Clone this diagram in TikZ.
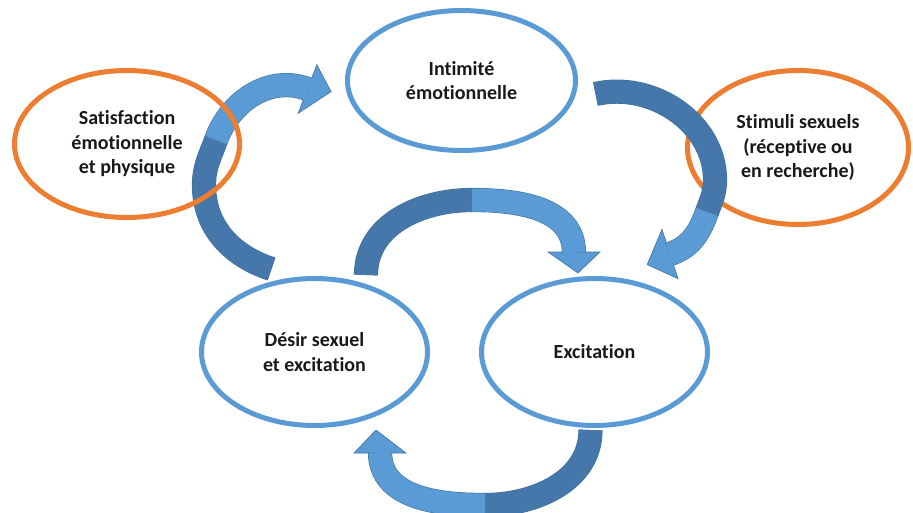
\documentclass[tikz,border=0pt]{standalone}
\usepackage{fontspec}
\setmainfont{Carlito}[Ligatures=NoCommon]
\usetikzlibrary{shapes.geometric,calc}

\definecolor{ovalblue}{HTML}{5B9BD5}
\definecolor{ovalorange}{HTML}{ED7D31}
\definecolor{bandlight}{HTML}{5B9BD5}
\definecolor{banddark}{HTML}{4677AA}
\definecolor{bandedge}{HTML}{41719C}

\begin{document}
\begin{tikzpicture}[
    x=1pt, y=1pt,
    oval/.style={ellipse, draw=ovalblue, line width=5pt, inner sep=0pt, align=center, font=\fontsize{20}{24.5}\selectfont\bfseries, text=black!90, minimum width=226pt, minimum height=147pt},
    orangeoval/.style={oval, draw=ovalorange},
    darkband/.style={draw=bandedge, line width=0.6pt, double=banddark, double distance=23pt},
    lightband/.style={draw=bandedge, line width=0.6pt, double=bandlight, double distance=23pt, shorten >=-0.8pt},
    bandhead/.style={fill=bandlight, draw=bandedge, line width=0.6pt, line join=miter}
]

\useasboundingbox (0,0) rectangle (913,-512);

% Stimuli (lies under the right arrow)
\node[orangeoval, minimum width=221pt, minimum height=154pt] (stimuli) at (798,-147.5) {Stimuli sexuels\\(réceptive ou\\en recherche)};

% Arrow points
\coordinate (aTail) at (271.5,-269);
\coordinate (aLeft) at (204,-185);
\coordinate (aTwist) at (216,-140);
\coordinate (aEnd) at (307.5,-89);
\coordinate (bTail) at (595.5,-94);
\coordinate (bRight) at (715,-180);
\coordinate (bTwist) at (707,-212);
\coordinate (bEnd) at (670,-254);
\coordinate (cTail) at (366,-275);
\coordinate (cTop) at (472,-200);
\coordinate (cEnd) at (574,-252);
\coordinate (dTail) at (590.5,-430);
\coordinate (dBottom) at (485,-505);
\coordinate (dEnd) at (380,-453);

% Left arrow: satisfaction -> intimite
\draw[darkband] (aTail) to[out=162,in=270] (aLeft) to[out=90,in=250] (aTwist);
\filldraw[bandhead] ($(aEnd)+(69:26)$) -- ($(aEnd)+(-21:23)+(69:6)$) -- ($(aEnd)+(-111:26)$) -- cycle;
\draw[lightband] (aTwist) to[out=70,in=159] (aEnd);

% Right arrow: intimite -> excitation
\draw[darkband] (bTail) to[out=13,in=90] (bRight) to[out=270,in=70] (bTwist);
\filldraw[bandhead] ($(bEnd)+(288:26)$) -- ($(bEnd)+(198:25)+(288:3)$) -- ($(bEnd)+(108:26)$) -- cycle;
\draw[lightband] (bTwist) to[out=250,in=18] (bEnd);

% Middle arrow: desir -> excitation
\draw[darkband] (cTail) to[out=90,in=180] (cTop);
\filldraw[bandhead] ($(cEnd)+(0:26)$) -- ($(cEnd)+(270:21)+(0:4)$) -- ($(cEnd)+(180:26)$) -- cycle;
\draw[lightband] (cTop) to[out=0,in=90] (cEnd);

% Bottom arrow: excitation -> desir
\draw[darkband] (dTail) to[out=270,in=0] (dBottom);
\filldraw[bandhead] ($(dEnd)+(180:26)$) -- ($(dEnd)+(90:23)+(180:4)$) -- ($(dEnd)+(0:26)$) -- cycle;
\draw[lightband] (dBottom) to[out=180,in=270] (dEnd);

% Ovals
\node[oval, minimum width=228pt, minimum height=140pt] (intimite) at (461.5,-80.5) {Intimité\\émotionnelle};
\node[orangeoval, minimum width=225pt] (satisfaction) at (127,-144) {Satisfaction\\émotionnelle\\et physique};
\node[oval] (desir) at (314.5,-352) {Désir sexuel\\et excitation};
\node[oval] (excitation) at (594.5,-352) {Excitation};

\end{tikzpicture}
\end{document}
